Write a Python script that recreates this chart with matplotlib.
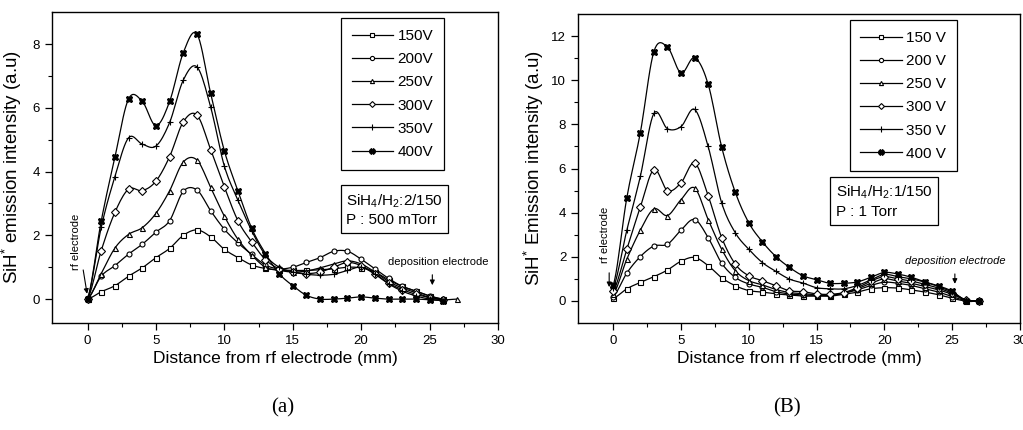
import numpy as np
import matplotlib
matplotlib.use('Agg')
import matplotlib.pyplot as plt

plt.rcParams['font.family'] = ['Liberation Sans', 'DejaVu Sans']
plt.rcParams['mathtext.fontset'] = 'custom'
plt.rcParams['mathtext.rm'] = 'Liberation Sans'
plt.rcParams['mathtext.it'] = 'Liberation Sans:italic'

# ---- data: panel (a), SiH4/H2 2/150, 500 mTorr ----
dist_a = list(range(0, 27))
dist_a_250 = list(range(0, 28))
a_150 = [0, 0.23, 0.42, 0.72, 0.98, 1.3, 1.59, 2.0, 2.17, 1.95, 1.56, 1.3, 1.07, 0.96,
         0.92, 0.9, 0.9, 0.92, 0.95, 1.0, 0.98, 0.85, 0.6, 0.4, 0.25, 0.1, 0.0]
a_200 = [0, 0.72, 1.05, 1.41, 1.72, 2.1, 2.46, 3.38, 3.42, 2.77, 2.19, 1.76, 1.4, 1.07,
         0.95, 1.0, 1.15, 1.3, 1.5, 1.5, 1.25, 0.95, 0.65, 0.4, 0.25, 0.1, 0.0]
a_250 = [0, 0.8, 1.6, 2.03, 2.24, 2.69, 3.4, 4.3, 4.36, 3.5, 2.6, 1.87, 1.38, 1.0,
         0.9, 0.85, 0.88, 0.98, 1.1, 1.2, 1.1, 0.85, 0.55, 0.35, 0.2, 0.05, -0.02, 0.0]
a_300 = [0, 1.52, 2.72, 3.45, 3.4, 3.7, 4.47, 5.56, 5.77, 4.69, 3.52, 2.45, 1.79, 1.24,
         0.95, 0.85, 0.8, 0.85, 1.0, 1.15, 1.05, 0.8, 0.5, 0.3, 0.15, 0.05, -0.02]
a_350 = [0, 2.25, 3.84, 5.06, 4.86, 4.8, 5.54, 6.87, 7.28, 6.02, 4.17, 3.1, 2.14, 1.38,
         1.0, 0.85, 0.78, 0.75, 0.78, 0.9, 1.0, 0.78, 0.48, 0.25, 0.1, 0.0, -0.05]
a_400 = [0, 2.45, 4.45, 6.28, 6.2, 5.44, 6.2, 7.73, 8.31, 6.45, 4.65, 3.39, 2.22, 1.43,
         0.8, 0.42, 0.12, 0.0, 0.0, 0.03, 0.07, 0.03, 0.0, 0.0, 0.0, -0.02, -0.05]

# ---- data: panel (B), SiH4/H2 1/150, 1 Torr ----
dist_b = list(range(0, 28))
b_150 = [0.12, 0.55, 0.84, 1.1, 1.4, 1.8, 1.97, 1.6, 1.05, 0.69, 0.47, 0.4, 0.32, 0.27,
         0.22, 0.22, 0.22, 0.3, 0.4, 0.55, 0.6, 0.58, 0.5, 0.4, 0.28, 0.12, 0.0, 0.0]
b_200 = [0.2, 1.26, 2.01, 2.49, 2.57, 3.21, 3.69, 2.87, 1.71, 1.07, 0.77, 0.62, 0.42, 0.32,
         0.27, 0.25, 0.25, 0.35, 0.5, 0.7, 0.85, 0.8, 0.7, 0.55, 0.4, 0.2, 0.02, 0.0]
b_250 = [0.3, 1.89, 3.21, 4.17, 3.87, 4.59, 5.12, 3.69, 2.34, 1.37, 0.92, 0.73, 0.52, 0.38,
         0.33, 0.28, 0.27, 0.35, 0.55, 0.8, 1.0, 0.9, 0.8, 0.65, 0.5, 0.3, 0.05, 0.0]
b_300 = [0.45, 2.34, 4.26, 5.95, 5.0, 5.35, 6.25, 4.77, 2.87, 1.67, 1.14, 0.92, 0.69, 0.46,
         0.42, 0.32, 0.3, 0.38, 0.6, 0.9, 1.1, 1.0, 0.9, 0.75, 0.58, 0.35, 0.05, 0.0]
b_350 = [0.6, 3.2, 5.65, 8.5, 7.8, 7.9, 8.68, 7.0, 4.44, 3.09, 2.34, 1.74, 1.34, 0.99,
         0.81, 0.6, 0.55, 0.55, 0.7, 0.95, 1.2, 1.1, 1.0, 0.85, 0.65, 0.4, 0.05, 0.0]
b_400 = [0.7, 4.67, 7.63, 11.3, 11.5, 10.33, 11.02, 9.82, 6.97, 4.93, 3.54, 2.68, 2.01, 1.52,
         1.14, 0.96, 0.8, 0.8, 0.86, 1.07, 1.29, 1.22, 1.07, 0.86, 0.68, 0.44, 0.01, 0.0]

markers = ['s', 'o', '^', 'D', '+', 'X']
labels_a = ['150V', '200V', '250V', '300V', '350V', '400V']
labels_b = ['150 V', '200 V', '250 V', '300 V', '350 V', '400 V']


def smooth(x, y, n=10):
    # Catmull-Rom curve through the measured points (only for drawing the line)
    x = np.asarray(x, float)
    y = np.asarray(y, float)
    xs, ys = [], []
    t = np.linspace(0, 1, n, endpoint=False)
    for i in range(len(x) - 1):
        p0 = y[i - 1] if i > 0 else y[i]
        p1, p2 = y[i], y[i + 1]
        p3 = y[i + 2] if i + 2 < len(y) else y[i + 1]
        yy = 0.5 * ((2 * p1) + (-p0 + p2) * t + (2 * p0 - 5 * p1 + 4 * p2 - p3) * t ** 2
                    + (-p0 + 3 * p1 - 3 * p2 + p3) * t ** 3)
        xs.append(x[i] + (x[i + 1] - x[i]) * t)
        ys.append(yy)
    xs.append([x[-1]])
    ys.append([y[-1]])
    return np.concatenate(xs), np.concatenate(ys)


def draw(ax, xsets, ysets, labels):
    for xv, yv, m, lab in zip(xsets, ysets, markers, labels):
        sx, sy = smooth(xv, yv)
        ax.plot(sx, sy, color='black', lw=0.9)
        filled = m in ('X',)
        ms = 4.5 if m in ('+', 'X') else 3.6
        ax.plot(xv, yv, ls='none', marker=m, ms=ms, mew=0.8, color='black',
                mfc='black' if filled else 'white')
        ax.plot([], [], color='black', lw=0.9, marker=m, ms=ms - 0.6, mew=0.8,
                mfc='black' if filled else 'white', label=lab)


fig = plt.figure(figsize=(10.23, 4.30), dpi=100)
ax1 = fig.add_axes([0.0508, 0.2488, 0.436, 0.723])
ax2 = fig.add_axes([0.565, 0.2488, 0.432, 0.7186])

draw(ax1, [dist_a, dist_a, dist_a_250, dist_a, dist_a, dist_a],
     [a_150, a_200, a_250, a_300, a_350, a_400], labels_a)
draw(ax2, [dist_b] * 6, [b_150, b_200, b_250, b_300, b_350, b_400], labels_b)

ax1.set_xlim(-2.6, 30)
ax1.set_ylim(-0.75, 9.0)
ax2.set_xlim(-2.6, 30)
ax2.set_ylim(-1.0, 13.0)
ax1.set_yticks([0, 2, 4, 6, 8])
ax1.set_yticks([1, 3, 5, 7], minor=True)
ax2.set_yticks([0, 2, 4, 6, 8, 10, 12])
ax2.set_yticks([1, 3, 5, 7, 9, 11], minor=True)
for ax in (ax1, ax2):
    ax.set_xticks([0, 5, 10, 15, 20, 25, 30])
    ax.set_xticks([2.5, 7.5, 12.5, 17.5, 22.5, 27.5], minor=True)
    ax.tick_params(which='major', direction='out', length=5, width=0.9, labelsize=9.5)
    ax.tick_params(which='minor', direction='out', length=3, width=0.8)
    for s in ax.spines.values():
        s.set_linewidth(1.0)
    ax.set_xlabel('Distance from rf electrode (mm)', fontsize=12.5, labelpad=3)

ax1.set_ylabel('SiH$^{*}$ emission intensity (a.u)', fontsize=13.5, labelpad=6)
ax2.set_ylabel('SiH$^{*}$ Emission intensity (a.u)', fontsize=13.5, labelpad=4)

leg_kw = dict(frameon=True, fancybox=False, edgecolor='black', framealpha=1,
              handlelength=2.7, handletextpad=0.3, labelspacing=0.6, numpoints=1,
              borderpad=0.7, borderaxespad=0, fontsize=11)
l1 = ax1.legend(loc='upper left', bbox_to_anchor=(0.648, 0.98), **leg_kw)
l1.get_frame().set_linewidth(0.9)
l2 = ax2.legend(loc='upper left', bbox_to_anchor=(0.615, 0.98), **leg_kw)
l2.get_frame().set_linewidth(0.9)

box = dict(boxstyle='square,pad=0.35', fc='white', ec='black', lw=0.9)
ax1.text(18.9, 2.8, 'SiH$_4$/H$_2$:2/150\nP : 500 mTorr', fontsize=11,
         ha='left', va='center', bbox=box, linespacing=1.35)
ax2.text(16.4, 4.5, 'SiH$_4$/H$_2$:1/150\nP : 1 Torr', fontsize=11,
         ha='left', va='center', bbox=box, linespacing=1.35)

# electrode annotations
ax1.text(-0.85, 1.8, 'rf electrode', rotation=90, fontsize=8, ha='center', va='center')
ax1.annotate('', xy=(0, 0.08), xytext=(-0.35, 1.0),
             arrowprops=dict(arrowstyle='-|>', color='black', lw=0.8, mutation_scale=7))
ax1.text(25.6, 1.15, 'deposition electrode', fontsize=8, ha='center', va='center')
ax1.annotate('', xy=(25.2, 0.35), xytext=(25.2, 0.85),
             arrowprops=dict(arrowstyle='-|>', color='black', lw=0.8, mutation_scale=7))

ax2.text(-0.6, 3.0, 'rf electrode', rotation=90, fontsize=8, ha='center', va='center')
ax2.annotate('', xy=(-0.3, 0.5), xytext=(-0.3, 1.4),
             arrowprops=dict(arrowstyle='-|>', color='black', lw=0.8, mutation_scale=7))
ax2.text(25.2, 1.8, 'deposition electrode', fontsize=8, ha='center', va='center', style='italic')
ax2.annotate('', xy=(25.2, 0.65), xytext=(25.2, 1.35),
             arrowprops=dict(arrowstyle='-|>', color='black', lw=0.8, mutation_scale=7))

fig.text(283 / 1023, 1 - 408 / 430, '(a)', family='Liberation Serif', fontsize=15,
         ha='center', va='center')
fig.text(787 / 1023, 1 - 408 / 430, '(B)', family='Liberation Serif', fontsize=15,
         ha='center', va='center')

fig.savefig('out.png', dpi=100)
